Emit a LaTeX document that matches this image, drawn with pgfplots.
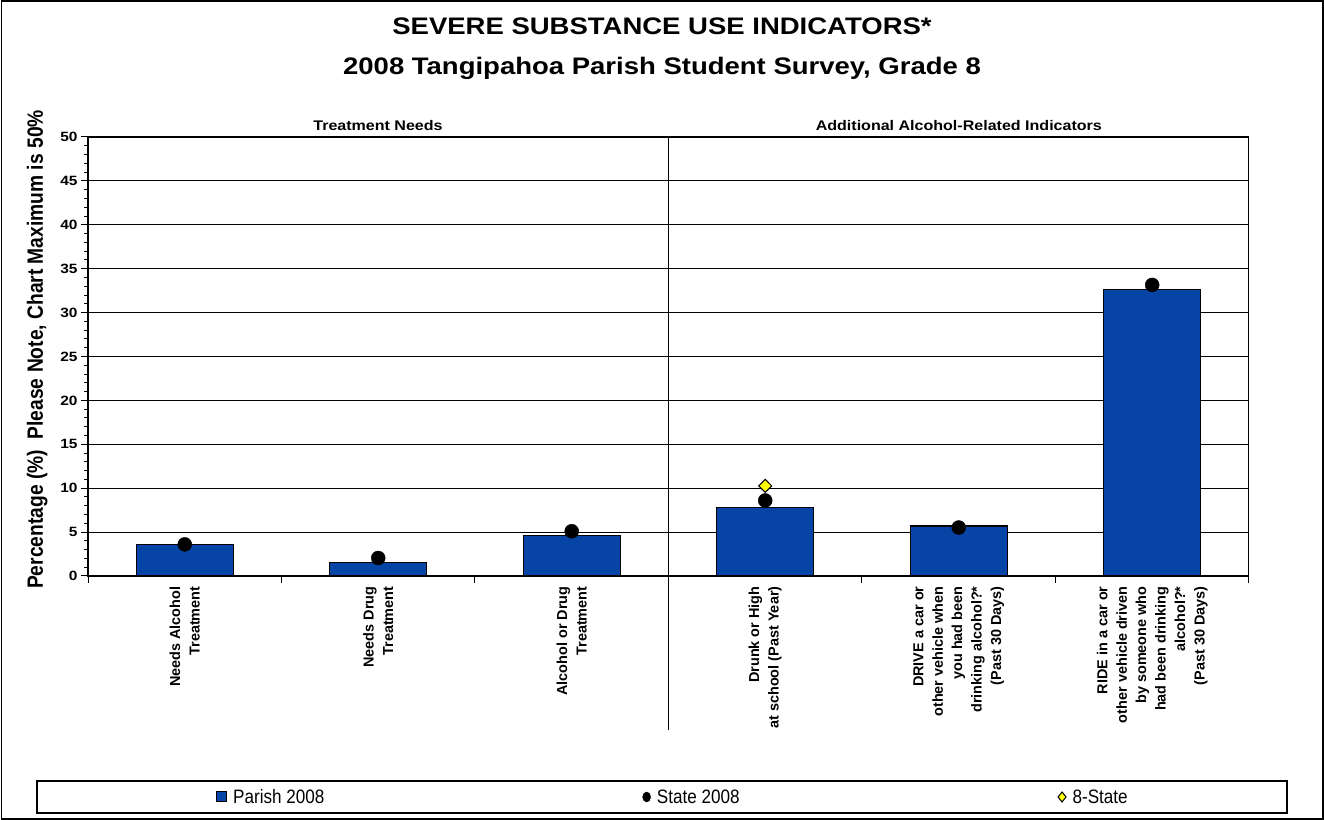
\documentclass[border=0pt]{standalone}
\usepackage{pgfplots}
\pgfplotsset{compat=1.18}
\usepackage{fontspec}
\setmainfont{Liberation Sans}
\newfontfamily\widef{Liberation Sans}[FakeStretch=1.15]
\newfontfamily\narrowf{Liberation Sans}[FakeStretch=0.88]
\definecolor{barblue}{RGB}{6,69,165}
\definecolor{stateyellow}{RGB}{255,255,0}

\begin{document}
\begin{tikzpicture}
\path[use as bounding box] (0,0) rectangle (1324bp,820bp);
\draw[line width=1.5bp] (1.25bp,1.25bp) rectangle (1322.75bp,818.75bp);

% titles
\node[anchor=base, font=\widef\bfseries\fontsize{24}{28}\selectfont] at (662bp,785bp) {SEVERE SUBSTANCE USE INDICATORS*};
\node[anchor=base, font=\widef\bfseries\fontsize{24}{28}\selectfont] at (662bp,745bp) {2008 Tangipahoa Parish Student Survey, Grade 8};

% group headings
\node[anchor=base, font=\widef\bfseries\fontsize{14}{16}\selectfont] at (378bp,689.3bp) {Treatment Needs};
\node[anchor=base, font=\widef\bfseries\fontsize{14}{16}\selectfont] at (958.8bp,689.3bp) {Additional Alcohol-Related Indicators};

\begin{axis}[
  at={(88bp,244bp)}, anchor=south west,
  scale only axis, width=1161bp, height=439bp,
  xmin=-0.5, xmax=5.5, ymin=0, ymax=50,
  xtick={-0.5,0.5,...,5.5},
  x tick label as interval,
  xticklabels={
    {Needs Alcohol\\Treatment},
    {Needs Drug\\Treatment},
    {Alcohol or Drug\\Treatment},
    {Drunk or High\\at school (Past Year)},
    {DRIVE a car or\\other vehicle when\\you had been\\drinking alcohol?*\\(Past 30 Days)},
    {RIDE in a car or\\other vehicle driven\\by someone who\\had been drinking\\alcohol?*\\(Past 30 Days)}},
  ytick={0,5,...,50}, minor y tick num=4,
  ymajorgrids, major grid style={black, line width=0.8bp},
  tick align=outside, tick pos=left,
  major tick length=7bp, minor tick length=4bp,
  tick style={black, line width=1bp},
  axis line style={line width=1bp},
  clip=false,
  /pgf/number format/assume math mode=true,
  yticklabel style={font=\widef\bfseries\fontsize{13.5}{16}\selectfont},
  xticklabel style={font=\bfseries\fontsize{14.5}{19.5}\selectfont,
    rotate=90, anchor=east, align=right},
  ylabel={Percentage (\%)\ \ Please Note, Chart Maximum is 50\%},
  ylabel style={at={(axis description cs:-0.0388,0.516)}, anchor=base,
    yscale=1.15, font=\bfseries\fontsize{19.3}{22}\selectfont},
  legend columns=3,
  legend cell align=left,
  legend style={draw=none, fill=none,
    at={(axis description cs:0.1077,-0.5034)}, anchor=west,
    font=\narrowf\fontsize{19.5}{22}\selectfont,
    nodes={inner sep=0pt},
    /tikz/every odd column/.style={column sep=6bp},
    /tikz/column 2/.style={column sep=318bp},
    /tikz/column 4/.style={column sep=318bp}},
]
% Parish 2008
\addplot[ybar, bar width=97bp, fill=barblue, draw=black, line width=1.3bp,
  legend image code/.code={\draw[fill=barblue, draw=black, line width=1bp] (0bp,-5bp) rectangle (10bp,5bp);}]
  coordinates {(0,3.6) (1,1.5) (2,4.6) (3,7.8) (4,5.7) (5,32.6)};
\addlegendentry{Parish 2008}
% State 2008
\addplot[only marks, mark=*, mark size=7bp, black,
  legend image code/.code={\fill[black] (5bp,0bp) ellipse (4bp and 5bp);}]
  coordinates {(0,3.6) (1,2.05) (2,5.1) (3,8.6) (4,5.52) (5,33.15)};
\addlegendentry{State 2008}
% 8-State
\addplot[only marks, mark=diamond*, mark size=6.5bp, mark options={xscale=1.33, fill=stateyellow, draw=black, line width=1bp},
  legend image code/.code={\draw[fill=stateyellow, draw=black, line width=1bp] (5bp,-5bp) -- (9bp,0bp) -- (5bp,5bp) -- (1bp,0bp) -- cycle;}]
  coordinates {(3,10.26)};
\addlegendentry{8-State}

% group divider and heavy axis lines
\draw[line width=1bp] (axis cs:2.5,50) -- (axis cs:2.5,0) -- ++(0bp,-154bp);
\draw[line width=2bp] (axis cs:-0.5,50) -- (axis cs:-0.5,0) -- (axis cs:5.5,0);
\end{axis}

% legend frame
\draw[line width=1.5bp] (37bp,7bp) rectangle (1287bp,39bp);
\end{tikzpicture}
\end{document}
